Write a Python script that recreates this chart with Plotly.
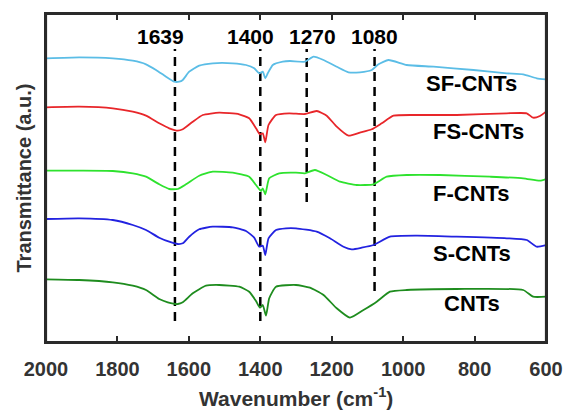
import plotly.graph_objects as go

# ---- data (wavenumber in cm^-1, transmittance in arbitrary offset units) ----
sf_wn = [2000,1907,1813,1757,1720,1692,1664,1641,1627,1617,1599,1571,1533,1477,1440,1417,1403,1393,1386,1379,1365,1337,1317,1275,1251,1223,1186,1153,1121,1088,1069,1041,990,915,803,710,664,626,600]
sf_t = [283.7,284.7,283.7,281.3,277.7,272,265.3,260.3,260.3,262,270.3,276.3,278.7,278.7,277,273.7,268.7,270.3,263.7,268.7,277,280.3,281,280.3,285.3,282,275.3,269.7,269.7,272,277.7,282,277,275.3,272,268.7,267.7,263.7,262.7]

fs_wn = [2000,1907,1813,1757,1720,1683,1655,1631,1617,1589,1561,1515,1459,1431,1412,1401,1393,1386,1377,1356,1319,1275,1242,1214,1186,1153,1121,1088,1060,1027,962,850,710,654,636,617,600]
fs_t = [234.7,235.3,233.7,230.3,226.3,218.7,213.7,211.3,212.7,220.3,227,229.3,227.7,223.7,213.7,207.7,208.7,199.7,217,227,228.7,228,231,226.3,215.3,206.3,209.3,212.7,218.7,226.3,227,227,228.7,228.7,224.3,226,230.3]

f_wn = [2000,1907,1813,1757,1720,1683,1655,1631,1608,1571,1533,1477,1431,1412,1398,1393,1386,1375,1347,1300,1275,1247,1214,1177,1130,1083,1046,990,897,757,664,617,600]
f_t = [171.3,171.3,171,168.7,165.3,157.7,153,153,157.7,166.3,170.3,169.3,165.3,157,151,153.7,147.7,163.7,168.7,169.3,168.7,172,167,160.3,157,157.7,165.3,167,167,165.3,163.7,161.3,163]

s_wn = [2000,1907,1813,1757,1720,1683,1655,1631,1617,1599,1571,1533,1477,1440,1417,1403,1393,1386,1377,1356,1328,1300,1242,1205,1167,1144,1116,1083,1037,962,850,710,654,626,600]
s_t = [123,123.7,122,117,112,104.3,100.3,98,98.7,105.3,112.7,115.3,114.7,111,104.3,95.3,96.3,87,103.7,112,113.7,113.7,110.3,103.7,95.3,92.7,94.3,97,105.3,106.3,105.3,103.7,102,95.3,97]

c_wn = [2000,1907,1813,1757,1720,1683,1659,1631,1617,1589,1552,1515,1459,1431,1412,1401,1393,1384,1375,1356,1300,1261,1223,1186,1149,1111,1074,1037,990,850,664,636,600]
c_t = [62.7,62,59.7,56.3,52,43,39.7,38,39.7,48.7,56.3,57,55.3,50.3,41,34.3,37,26.3,43.7,55.3,57,54.3,47,33.7,24.3,32,40.3,50.3,52,53,52,45.3,45.3]

series_names = ["SF-CNTs", "FS-CNTs", "F-CNTs", "S-CNTs", "CNTs"]
series_colors = ["#5bbde6", "#e8262a", "#2ee22e", "#2222e0", "#1e8c1e"]

peak_wn = [1639, 1400, 1270, 1080]
peak_labels = ["1639", "1400", "1270", "1080"]
peak_top = [293, 293, 293, 293]
peak_bottom = [21, 21, 140, 51]

x_ticks = [2000, 1800, 1600, 1400, 1200, 1000, 800, 600]

FONT = "Liberation Sans, Arial, sans-serif"
AXIS_COLOR = "#2a2a2a"

fig = go.Figure()

# dashed reference lines
for wn, y0, y1 in zip(peak_wn, peak_bottom, peak_top):
    fig.add_trace(go.Scatter(x=[wn, wn], y=[y0, y1], mode="lines",
                             line=dict(color="black", width=2.5, dash="9px,6px"),
                             showlegend=False, hoverinfo="skip"))

all_wn = [sf_wn, fs_wn, f_wn, s_wn, c_wn]
all_t = [sf_t, fs_t, f_t, s_t, c_t]
for name, col, wn, t in zip(series_names, series_colors, all_wn, all_t):
    fig.add_trace(go.Scatter(x=wn, y=t, mode="lines", name=name,
                             line=dict(color=col, width=1.8, shape="spline", smoothing=0.5),
                             showlegend=False))

# invisible trace on the top axis so the mirrored tick axis is drawn
fig.add_trace(go.Scatter(x=[x_ticks[0]], y=[0], xaxis="x2", mode="markers",
                         marker=dict(size=1, color="rgba(0,0,0,0)"),
                         showlegend=False, hoverinfo="skip"))

# peak labels
peak_shift = [-14, -10, 6, 0]
for wn, lab, dx in zip(peak_wn, peak_labels, peak_shift):
    fig.add_annotation(x=wn, y=306, text=lab, showarrow=False, xshift=dx,
                       font=dict(family=FONT, size=21, color="black", weight="bold"),
                       xanchor="center", yanchor="middle")

# series labels
label_wn = [808, 790, 808, 808, 806]
label_y = [258.5, 211, 149, 89, 39]
for lab, wn, y in zip(series_names, label_wn, label_y):
    fig.add_annotation(x=wn, y=y, text=lab, showarrow=False,
                       font=dict(family=FONT, size=22, color="black", weight="bold"),
                       xanchor="center", yanchor="middle")

# axis titles
fig.add_annotation(xref="paper", yref="paper", x=0.5, y=-0.168,
                   text="Wavenumber (cm<sup>-1</sup>)", showarrow=False,
                   font=dict(family=FONT, size=21, color="#333333", weight="bold"),
                   xanchor="center", yanchor="middle")
fig.add_annotation(xref="paper", yref="paper", x=-0.044, y=0.4985,
                   text="Transmittance (a.u.)", showarrow=False, textangle=-90,
                   font=dict(family=FONT, size=20, color="#333333", weight="bold"),
                   xanchor="center", yanchor="middle")

# plot frame
fig.add_shape(type="rect", xref="paper", yref="paper", x0=0, y0=0, x1=1, y1=1,
              line=dict(color=AXIS_COLOR, width=2.2), fillcolor="rgba(0,0,0,0)",
              layer="above")

fig.update_layout(
    width=567, height=411,
    margin=dict(l=46, r=21, t=14, b=69, autoexpand=False),
    plot_bgcolor="white", paper_bgcolor="white",
    xaxis=dict(range=[2000, 600], tickvals=x_ticks, ticks="inside", ticklen=6,
               tickwidth=1.8, tickcolor=AXIS_COLOR, showline=True, mirror=True,
               linecolor=AXIS_COLOR, linewidth=2, showgrid=False, zeroline=False,
               automargin=False,
               tickfont=dict(family=FONT, size=20, color="#333333", weight="bold"),
               ticklabelstandoff=8),
    xaxis2=dict(range=[2000, 600], tickvals=x_ticks, ticks="inside", ticklen=6,
                tickwidth=1.8, tickcolor=AXIS_COLOR, overlaying="x", side="top",
                showticklabels=False, showline=False, showgrid=False,
                zeroline=False, automargin=False),
    yaxis=dict(range=[0, 328], showticklabels=False, ticks="", showline=True,
               mirror=True, linecolor=AXIS_COLOR, linewidth=2, showgrid=False,
               zeroline=False, automargin=False),
)

fig.write_html("out.html", config={"displayModeBar": False},
               post_script="document.body.style.margin='0';document.body.style.padding='0';")
